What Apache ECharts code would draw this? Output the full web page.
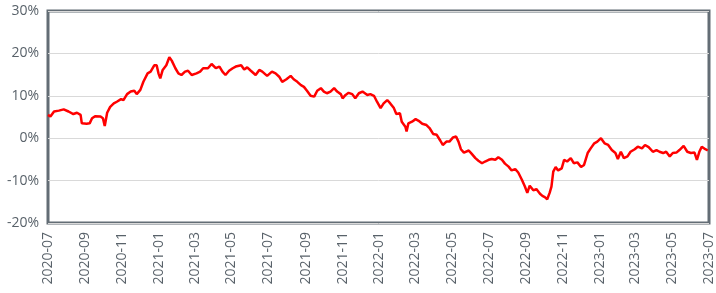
<!DOCTYPE html>
<html><head><meta charset="utf-8">
<script src="https://cdn.jsdelivr.net/npm/echarts@6/dist/echarts.min.js"></script>
<style>html,body{margin:0;padding:0;background:#fff}#c{width:716px;height:293px}</style>
</head><body><div id="c"></div>
<script>
const tickLabels = ['2020-07','2020-09','2020-11','2021-01','2021-03','2021-05','2021-07','2021-09','2021-11','2022-01','2022-03','2022-05','2022-07','2022-09','2022-11','2023-01','2023-03','2023-05','2023-07'];
const yTicks = [-20, -10, 0, 10, 20, 30];
const dates = [
'2020-07-01','2020-07-05','2020-07-11','2020-07-19','2020-07-27','2020-08-04','2020-08-12','2020-08-18','2020-08-24','2020-08-26',
'2020-09-03','2020-09-08','2020-09-12','2020-09-17','2020-09-26','2020-09-30','2020-10-03','2020-10-07','2020-10-12','2020-10-18',
'2020-10-23','2020-10-30','2020-11-03','2020-11-09','2020-11-15','2020-11-21','2020-11-25','2020-12-01','2020-12-06','2020-12-13',
'2020-12-18','2020-12-24','2020-12-28','2020-12-31','2021-01-03','2021-01-07','2021-01-13','2021-01-18','2021-01-22','2021-01-28',
'2021-02-02','2021-02-07','2021-02-13','2021-02-18','2021-02-24','2021-03-04','2021-03-10','2021-03-15','2021-03-23','2021-03-29',
'2021-04-05','2021-04-11','2021-04-16','2021-04-21','2021-04-27','2021-05-03','2021-05-08','2021-05-17','2021-05-22','2021-05-27',
'2021-06-02','2021-06-10','2021-06-16','2021-06-21','2021-06-29','2021-07-07','2021-07-13','2021-07-19','2021-07-24','2021-07-31',
'2021-08-07','2021-08-12','2021-08-18','2021-08-24','2021-08-29','2021-09-03','2021-09-09','2021-09-15','2021-09-20','2021-09-26',
'2021-10-01','2021-10-06','2021-10-12','2021-10-18','2021-10-23','2021-10-29','2021-11-01','2021-11-06','2021-11-11','2021-11-17',
'2021-11-22','2021-11-28','2021-12-04','2021-12-12','2021-12-17','2021-12-23','2021-12-28','2022-01-03','2022-01-08','2022-01-14',
'2022-01-19','2022-01-25','2022-01-29','2022-02-04','2022-02-07','2022-02-13','2022-02-15','2022-02-18','2022-02-24','2022-03-02',
'2022-03-07','2022-03-13','2022-03-20','2022-03-25','2022-03-31','2022-04-06','2022-04-12','2022-04-16','2022-04-22','2022-04-27',
'2022-05-03','2022-05-08','2022-05-12','2022-05-16','2022-05-21','2022-05-29','2022-06-03','2022-06-09','2022-06-14','2022-06-20',
'2022-06-25','2022-07-01','2022-07-06','2022-07-12','2022-07-17','2022-07-23','2022-07-28','2022-08-03','2022-08-08','2022-08-14',
'2022-08-19','2022-08-25','2022-08-30','2022-09-03','2022-09-07','2022-09-13','2022-09-18','2022-09-24','2022-09-28','2022-10-02',
'2022-10-06','2022-10-10','2022-10-13','2022-10-16','2022-10-20','2022-10-24','2022-10-30','2022-11-03','2022-11-08','2022-11-14',
'2022-11-19','2022-11-25','2022-12-01','2022-12-06','2022-12-12','2022-12-17','2022-12-23','2022-12-28','2023-01-03','2023-01-06',
'2023-01-09','2023-01-15','2023-01-21','2023-01-27','2023-01-31','2023-02-05','2023-02-10','2023-02-16','2023-02-21','2023-02-28',
'2023-03-05','2023-03-12','2023-03-17','2023-03-23','2023-03-30','2023-04-05','2023-04-10','2023-04-16','2023-04-21','2023-04-27',
'2023-05-02','2023-05-08','2023-05-13','2023-05-20','2023-05-26','2023-06-01','2023-06-07','2023-06-11','2023-06-15','2023-06-19',
'2023-06-25','2023-06-29'
];
const values = [
5.5,5.1,6.3,6.5,6.8,6.3,5.7,6.0,5.5,3.5,
3.4,3.5,4.7,5.2,5.1,4.7,2.9,6.0,7.4,8.2,
8.6,9.2,9.0,10.4,11.0,11.2,10.4,11.4,13.3,15.3,
15.7,17.2,17.2,15.3,14.1,16.1,17.2,19.1,18.3,16.5,
15.3,14.9,15.7,15.9,14.9,15.3,15.7,16.5,16.5,17.5,
16.5,16.9,15.7,14.9,15.9,16.5,16.9,17.2,16.2,16.7,
15.9,14.9,16.1,15.7,14.7,15.7,15.3,14.5,13.3,13.9,
14.7,13.9,13.3,12.5,12.1,11.2,10.0,9.8,11.2,11.8,
11.0,10.6,11.0,11.8,11.0,10.4,9.4,10.2,10.7,10.4,
9.4,10.6,11.0,10.2,10.4,10.0,8.6,7.1,8.2,9.0,
8.2,7.1,5.7,5.9,3.9,2.7,1.6,3.5,3.9,4.5,
4.1,3.4,3.1,2.4,1.0,0.8,-0.6,-1.6,-0.8,-0.8,
0.2,0.4,-0.8,-2.6,-3.4,-2.9,-3.7,-4.7,-5.3,-5.9,
-5.5,-5.1,-4.9,-5.1,-4.5,-5.1,-6.0,-6.7,-7.6,-7.3,
-8.1,-9.8,-11.4,-12.9,-11.2,-12.3,-12.0,-13.1,-13.6,-13.9,
-14.4,-12.9,-11.4,-7.9,-6.8,-7.6,-7.1,-5.1,-5.5,-4.7,
-5.9,-5.7,-6.8,-6.3,-3.5,-2.4,-1.2,-0.8,0.0,-0.2,
-1.2,-1.6,-2.8,-3.5,-4.9,-3.2,-4.7,-4.3,-3.2,-2.6,
-2.0,-2.4,-1.6,-2.1,-3.2,-2.8,-3.2,-3.5,-3.2,-4.3,
-3.5,-3.4,-2.8,-1.8,-3.2,-3.5,-3.4,-5.1,-3.2,-2.0,
-2.6,-2.9
];

const toTs = s => { const p = s.split('-').map(Number); return Date.UTC(p[0], p[1]-1, p[2] || 1); };
const seriesData = dates.map((d, i) => [toTs(d), values[i]]);
const tickTs = tickLabels.map(toTs);
const pad = n => (n < 10 ? '0' : '') + n;

const chart = echarts.init(document.getElementById('c'), null, {renderer: 'canvas'});
chart.setOption({
  animation: false,
  backgroundColor: '#ffffff',
  textStyle: {fontFamily: 'Open Sans'},
  grid: {left: 48, right: 5, top: 11, bottom: 70, show: true, borderColor: '#636d75', borderWidth: 3, backgroundColor: 'transparent', containLabel: false},
  xAxis: {
    type: 'value',
    min: tickTs[0], max: tickTs[tickTs.length - 1],
    axisLine: {show: false},
    axisTick: {show: false},
    splitLine: {show: false},
    axisLabel: {
      customValues: tickTs,
      showMinLabel: true, showMaxLabel: true,
      rotate: 90, margin: 9, fontSize: 14, color: '#59626a', fontFamily: 'Open Sans',
      formatter: v => { const d = new Date(v); return d.getUTCFullYear() + '-' + pad(d.getUTCMonth() + 1); }
    }
  },
  yAxis: {
    type: 'value',
    min: yTicks[0], max: yTicks[yTicks.length - 1], interval: 10,
    axisLine: {show: false},
    axisTick: {show: false},
    splitLine: {show: true, lineStyle: {color: '#d9d9d9', width: 1}},
    axisLabel: {formatter: '{value}%', margin: 9, fontSize: 14, color: '#59626a', fontFamily: 'Open Sans'}
  },
  series: [{
    type: 'line', data: seriesData, showSymbol: false, symbol: 'none',
    lineStyle: {color: '#ff0000', width: 2.5}, z: 3
  }]
});
</script></body></html>
